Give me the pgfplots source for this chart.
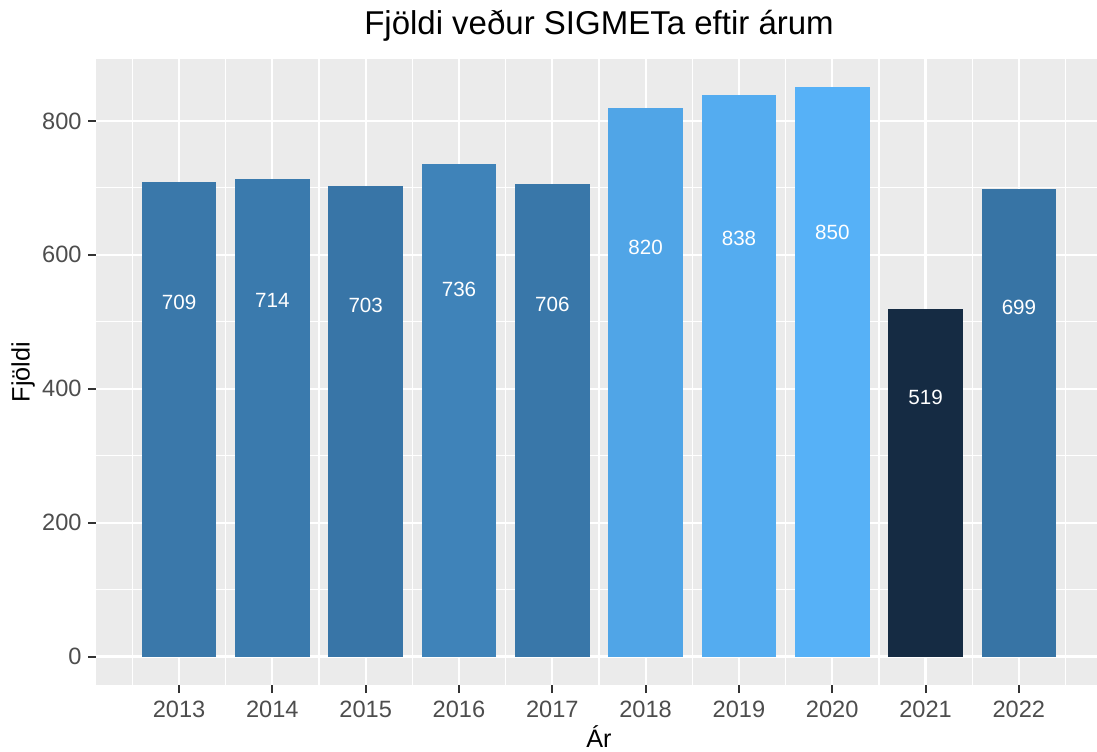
\documentclass[border=0pt]{standalone}
\usepackage{pgfplots}
\pgfplotsset{compat=1.18}
\usepackage{pgfplotstable}
\usepackage{fontspec}
\setmainfont{Liberation Sans}
\definecolor{panelbg}{RGB}{235,235,235}
\definecolor{tickgray}{RGB}{77,77,77}
\definecolor{tickline}{RGB}{51,51,51}
\definecolor{c2013}{RGB}{58,120,170}
\definecolor{c2014}{RGB}{58,122,173}
\definecolor{c2015}{RGB}{56,117,167}
\definecolor{c2016}{RGB}{63,131,185}
\definecolor{c2017}{RGB}{57,119,169}
\definecolor{c2018}{RGB}{80,165,231}
\definecolor{c2019}{RGB}{84,172,240}
\definecolor{c2020}{RGB}{86,177,247}
\definecolor{c2021}{RGB}{21,43,67}
\definecolor{c2022}{RGB}{55,116,165}
\pgfplotstableread{
year n
2013 709
2014 714
2015 703
2016 736
2017 706
2018 820
2019 838
2020 850
2021 519
2022 699
}\sigmet
\pgfplotsset{mybar/.style={ybar, bar width=0.8, bar shift=0pt, draw=none, fill=#1}}
\begin{document}
\begin{tikzpicture}
\begin{axis}[
  name=ax, at={(0,0)}, anchor=south west,
  scale only axis, width=503pt, height=313pt,
  xmin=2012.11, xmax=2022.89, ymin=-42.5, ymax=892.5,
  axis background/.style={fill=panelbg},
  axis line style={draw=none},
  xtick={2013,...,2022}, ytick={0,200,400,600,800},
  minor xtick={2012.5,2013.5,...,2022.5},
  minor ytick={100,300,500,700},
  grid=both,
  major grid style={white, line width=1.1pt},
  minor grid style={white, line width=0.55pt},
  tick align=outside, tick pos=left,
  major tick length=4pt, minor tick length=0pt,
  tick style={tickline, line width=1pt},
  /pgf/number format/1000 sep={},
  /pgf/number format/assume math mode=true,
  ticklabel style={font=\fontsize{11.8}{14}\selectfont, text=tickgray, inner sep=0pt},
  yticklabel style={anchor=east, xshift=-3pt},
  xticklabel style={anchor=north, yshift=-4pt},
  title={Fjöldi veður SIGMETa eftir árum},
  every axis title/.style={at={(axis description cs:0.5,1)}, anchor=base, yshift=12pt, font=\fontsize{16.5}{19}\selectfont},
  xlabel={Ár}, ylabel={Fjöldi},
  every axis x label/.style={at={(axis description cs:0.5,0)}, anchor=base, yshift=-31pt, font=\fontsize{12.6}{15}\selectfont},
  every axis y label/.style={at={(axis description cs:0,0.5)}, xshift=-36.5pt, rotate=90, anchor=center, font=\fontsize{12.6}{15}\selectfont},
]
\addplot[mybar=c2013] coordinates {(2013,709)};
\addplot[mybar=c2014] coordinates {(2014,714)};
\addplot[mybar=c2015] coordinates {(2015,703)};
\addplot[mybar=c2016] coordinates {(2016,736)};
\addplot[mybar=c2017] coordinates {(2017,706)};
\addplot[mybar=c2018] coordinates {(2018,820)};
\addplot[mybar=c2019] coordinates {(2019,838)};
\addplot[mybar=c2020] coordinates {(2020,850)};
\addplot[mybar=c2021] coordinates {(2021,519)};
\addplot[mybar=c2022] coordinates {(2022,699)};
\addplot[draw=none, mark=none, nodes near coords, point meta=explicit symbolic,
  nodes near coords style={anchor=center, text=white, font=\fontsize{10.3}{12}\selectfont, inner sep=0pt}]
  table[x=year, y expr=0.745*\thisrow{n}, meta=n] {\sigmet};
\end{axis}
\pgfresetboundingbox
\useasboundingbox ([xshift=-48pt,yshift=-33pt]ax.south west) rectangle ([xshift=500.5pt,yshift=342.5pt]ax.south west);
\end{tikzpicture}
\end{document}
